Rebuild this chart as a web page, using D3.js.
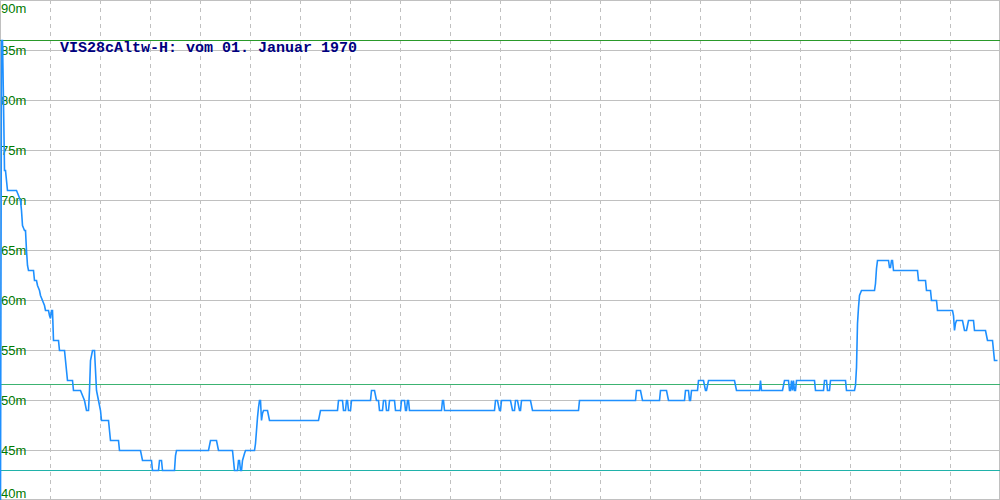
<!DOCTYPE html>
<html>
<head>
<meta charset="utf-8">
<script src="https://cdn.jsdelivr.net/npm/d3@7"></script>
<style>
  html, body { margin: 0; padding: 0; background: #fff; }
  svg { display: block; }
</style>
</head>
<body>
<div id="chart"></div>
<script>
// ---- data ----
const title = "VIS28cAltw-H: vom 01. Januar 1970";
const yTicks = [40, 45, 50, 55, 60, 65, 70, 75, 80, 85, 90];
const yTickLabels = ["40m", "45m", "50m", "55m", "60m", "65m", "70m", "75m", "80m", "85m", "90m"];
const refLevels = [85.95, 51.6, 43.0];
const refColors = ["#2a9a2a", "#3cb371", "#20b2aa"];
// sample index along the time axis
const sampleIdx = [
  0,1,2,3,4,5,7,16,18,20,21,22,24,25,26,27,28,33,34,36,37,39,40,42,44,45,48,49,50,51,52,53,58,59,64,65,67,72,73,80,82,84,86,88,89,90,92,94,96,98,100,101,108,110,118,119,140,142,151,152,
  158,159,160,161,162,174,175,176,208,210,216,218,232,233,234,237,238,239,240,241,242,244,245,254,255,256,257,258,259,260,261,262,263,267,269,318,320,337,338,342,343,345,346,347,348,350,351,
  370,371,374,376,378,379,382,383,385,386,388,389,394,395,400,401,404,405,406,407,408,409,441,442,443,444,
  494,495,497,499,500,501,510,512,514,515,517,519,520,521,530,532,578,579,635,636,640,642,659,660,666,668,
  684,685,688,689,690,691,697,698,703,705,706,708,734,736,759,760,761,782,784,788,789,790,791,792,793,794,795,796,814,815,823,824,826,827,829,830,845,846,
  854,855,856,857,858,859,861,874,875,876,877,888,889,890,891,892,893,917,918,925,926,930,931,936,937,952,953,954,955,956,962,963,964,966,967,968,973,974,985,986,987,992,994,997
];
const levelM = [
  40,86,86,80,73,73,71,71,70.5,70,69,67.5,67,67,65,63.5,63,63,62,62,61.5,61,60.5,60,59.5,59,59,58.5,58.2,59,59,56,56,55,55,54,52,52,51,51,50.5,50,49,49,51,54,55,55,51,50,49,48,48,46,46,45,45,44,44,43,
  43,44,44,44,43,43,44.5,45,45,46,46,45,45,44,43,43,44,44,43,43,44,44.7,45,45,45.7,47,48.3,49.3,50,50,48,48.7,49,49,48,48,49,49,50,50,49,49,50,50,49,49,50,
  50,51,51,50,50,49,49,50,50,49,49,50,50,49,49,50,50,49,49,50,50,49,49,50,50,49,
  49,50,50,49,49,50,50,49,49,50,50,49,49,50,50,49,49,50,50,51,51,50,50,51,51,50,
  50,51,51,50,50,51,51,52,52,51,51,52,52,51,51,52,51,51,52,52,51,51,52,51,52,51,51,52,52,51,51,52,52,51,51,52,52,51,
  51,51.5,53.3,57.7,59.3,60.5,61,61,61.7,63.2,64,64,63.3,63.3,64,64,63,63,62,62,61,61,60,60,59,59,58.5,57,57.7,58,58,57.5,57,57,57.5,58,58,57,57,56.5,56,56,54,54
];

// ---- chart ----
const W = 1000, H = 500;
const svg = d3.select("#chart").append("svg").attr("width", W).attr("height", H);

const x = d3.scaleLinear().domain([0, 1000]).range([0, 1000]);
const y = d3.scaleLinear().domain([40, 90]).range([500, 0]);

// horizontal grid
svg.append("g").selectAll("line").data(yTicks.filter(v => v > 40 && v < 90)).join("line")
  .attr("x1", 0).attr("x2", W)
  .attr("y1", d => Math.round(y(d)) + 0.5).attr("y2", d => Math.round(y(d)) + 0.5)
  .attr("stroke", "#c0c0c0").attr("stroke-width", 1).attr("shape-rendering", "crispEdges");

// vertical dashed grid
const xGrid = d3.range(50, 1000, 50);
svg.append("g").selectAll("line").data(xGrid).join("line")
  .attr("x1", d => x(d) + 0.5).attr("x2", d => x(d) + 0.5)
  .attr("y1", 0).attr("y2", H)
  .attr("stroke", "#c0c0c0").attr("stroke-width", 1).attr("stroke-dasharray", "4,4")
  .attr("shape-rendering", "crispEdges");

// border
svg.append("rect").attr("x", 0.5).attr("y", 0.5).attr("width", W - 1).attr("height", H - 1)
  .attr("fill", "none").attr("stroke", "#c0c0c0").attr("shape-rendering", "crispEdges");

// reference lines
svg.append("g").selectAll("line").data(refLevels).join("line")
  .attr("x1", 0).attr("x2", W)
  .attr("y1", d => Math.round(y(d)) + 0.5).attr("y2", d => Math.round(y(d)) + 0.5)
  .attr("stroke", (d, i) => refColors[i]).attr("stroke-width", 1).attr("shape-rendering", "crispEdges");

// y labels
svg.append("g").selectAll("text").data(yTicks).join("text")
  .attr("x", 1)
  .attr("y", d => Math.max(13, Math.min(498, y(d) + 4.5)))
  .attr("fill", "#007a00")
  .attr("font-family", "'Liberation Sans', Arial, sans-serif")
  .attr("font-size", 13)
  .text((d, i) => yTickLabels[i]);

// data line
svg.append("clipPath").attr("id", "clip").append("rect").attr("x", 0).attr("y", 0).attr("width", W).attr("height", H);
const pts = sampleIdx.map((s, i) => [s, levelM[i]]);
const line = d3.line().x(d => x(d[0]) + 0.5).y(d => y(d[1]) + 0.5);
svg.append("path").datum(pts)
  .attr("clip-path", "url(#clip)")
  .attr("d", line)
  .attr("fill", "none").attr("stroke", "#1e90ff").attr("stroke-width", 1.6)
  .attr("stroke-linejoin", "miter");

// title
svg.append("text").attr("x", 60).attr("y", 52)
  .attr("fill", "#000080")
  .attr("font-family", "'Liberation Mono', 'DejaVu Sans Mono', monospace")
  .attr("font-size", 15).attr("font-weight", "bold")
  .text(title);
</script>
</body>
</html>
